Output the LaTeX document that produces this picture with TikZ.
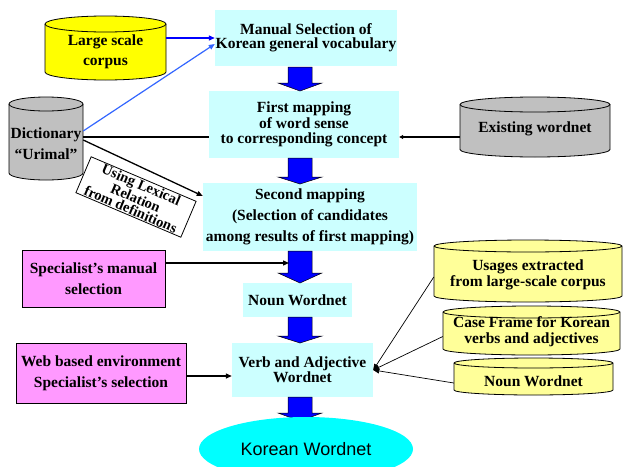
\documentclass[tikz,border=0pt]{standalone}
\usepackage{fontspec}
\setmainfont{Liberation Serif}
\newfontfamily\arialfont{Liberation Sans}
\usetikzlibrary{arrows.meta,shapes.geometric}
\definecolor{boxcyan}{HTML}{CCFFFF}
\definecolor{mypink}{HTML}{FF99FF}
\definecolor{cylyellow}{HTML}{FFFF00}
\definecolor{lightyellow}{HTML}{FFFF99}
\definecolor{cylgray}{HTML}{C0C0C0}
\definecolor{kwcyan}{HTML}{00FFFF}
\definecolor{arrowblue}{HTML}{0000FF}
\definecolor{lblue}{HTML}{3366FF}
\newcommand\mycylinder[6]{%
  \pgfmathsetmacro\cylrx{(#3-#1)/2}%
  \draw[fill=#6, line width=0.8pt] (#1,#2+#5) -- (#1,#4-#5)
    arc[start angle=180,end angle=360,x radius=\cylrx pt,y radius=#5 pt]
    -- (#3,#2+#5)
    arc[start angle=0,end angle=180,x radius=\cylrx pt,y radius=#5 pt] -- cycle;
  \draw[line width=0.8pt] (#1,#2+#5)
    arc[start angle=180,end angle=360,x radius=\cylrx pt,y radius=#5 pt];
}
\newcommand\blockarr[3]{%
  \draw[blockarrow] (288,#1) -- (312,#1) -- (312,#2) -- (322,#2) -- (300,#3)
    -- (278,#2) -- (288,#2) -- cycle;
}
\begin{document}
\begin{tikzpicture}[x=1pt,y=-1pt,
  mainfont/.style={font=\fontsize{15.5}{#1}\selectfont\bfseries},
  stepbox/.style={fill=boxcyan, inner sep=0, align=center},
  srcbox/.style={draw, fill=mypink, line width=0.8pt, inner sep=0, align=center, mainfont=21},
  cyltext/.style={inner sep=0, align=center},
  blockarrow/.style={fill=arrowblue, draw=black, line width=0.5pt},
  conn/.style={-{Triangle[length=6pt,width=5pt]}, line width=1.3pt},
  thinconn/.style={-{Triangle[length=6pt,width=5pt]}, line width=0.7pt}]
\useasboundingbox (0,0) rectangle (624,466);
\clip (0,0) rectangle (624,466);

% cylinders
\mycylinder{45}{16}{166}{80}{8}{cylyellow}
\node[cyltext, mainfont=20, minimum width=121] (corpus) at (105.5,52) {Large scale\\corpus};
\mycylinder{9}{97}{83}{180}{7}{cylgray}
\node[cyltext, mainfont=21, minimum width=74] (dict) at (46,143.5) {Dictionary\\``Urimal''};
\mycylinder{460}{97}{610}{157}{7.5}{cylgray}
\node[cyltext, mainfont=16, minimum width=150] (exist) at (535,129) {Existing wordnet};
\mycylinder{434}{240}{622}{302}{6}{lightyellow}
\node[cyltext, mainfont=16, minimum width=188] (usage) at (528,275) {Usages extracted\\from large-scale corpus};
\mycylinder{443}{306}{620}{355}{6}{lightyellow}
\node[cyltext, mainfont=15.5, minimum width=177] (caseframe) at (531.5,331.5) {Case Frame for Korean\\verbs and adjectives};
\mycylinder{454}{358}{613}{395}{5}{lightyellow}
\node[cyltext, mainfont=16, minimum width=159] (nounwn) at (533.5,381) {Noun Wordnet};

% step boxes
\node[stepbox, mainfont=14, minimum width=182, minimum height=56] (box1) at (306,38) {Manual Selection of\\Korean general vocabulary};
\node[stepbox, mainfont=15.5, minimum width=190, minimum height=67] (box2) at (304,124.5) {First mapping\\of word sense\\to corresponding concept};
\node[stepbox, mainfont=21, minimum width=214, minimum height=68] (box3) at (310,217) {Second mapping\\(Selection of candidates\\among results of first mapping)};
\node[stepbox, mainfont=16, minimum width=109, minimum height=34] (box4) at (297.5,300) {Noun Wordnet};
\node[stepbox, mainfont=15, minimum width=141, minimum height=54] (box5) at (302.5,370) {Verb and Adjective\\Wordnet};

% block arrows
\blockarr{67}{83}{91}
\blockarr{158}{177}{184}
\blockarr{251}{273}{283}
\blockarr{317}{336}{343}
\blockarr{397}{413}{421}
\coordinate (a3) at (289,263);

\node[ellipse, fill=kwcyan, minimum width=214, minimum height=64, inner sep=0,
  font=\arialfont\fontsize{18}{18}\selectfont] (kw) at (306,449) {Korean Wordnet};

% source boxes
\node[srcbox, minimum width=143, minimum height=57] (spec) at (93.5,278.5) {Specialist's manual\\selection};
\node[srcbox, minimum width=170, minimum height=60] (web) at (101,373) {Web based environment\\Specialist's selection};

% rotated label
\node[draw, fill=white, line width=0.8pt, rotate=-23, minimum width=114, minimum height=39,
  inner sep=0, align=center, font=\fontsize{14.5}{12.5}\selectfont\bfseries] (lex) at (136,197) {Using Lexical\\Relation\\from definitions};

% connectors
\draw[-{Triangle[length=6pt,width=5pt]}, line width=1.2pt, arrowblue] (corpus.east |- box1.west) -- (box1.west);
\draw[-{Triangle[length=6pt,width=5pt]}, line width=1.2pt, lblue] ([yshift=12.5pt]dict.east) -- ([yshift=-6pt]box1.west);
\coordinate (dk) at ([yshift=6.5pt]dict.east);
\draw[line width=1.3pt] (dk) -- (dk -| box2.west);
\draw[conn] ([yshift=3.5pt]dict.east) -- ([yshift=21pt]box3.west);
\coordinate (ek) at ([yshift=-8pt]exist.west);
\draw[-{Triangle[length=4pt,width=4pt]}, line width=1.3pt] (ek) -- (ek -| box2.east);
\coordinate (sk) at ([yshift=15.5pt]spec.east);
\draw[conn] (sk) -- (sk -| a3);
\coordinate (wk) at ([yshift=-3pt]web.east);
\draw[conn] (wk) -- (wk -| box5.west);
\draw[thinconn] ([yshift=-2pt]usage.west) -- (box5.east);
\draw[thinconn] ([yshift=-5pt]caseframe.west) -- (box5.east);
\draw[thinconn] ([yshift=-2pt]nounwn.west) -- (box5.east);
\end{tikzpicture}
\end{document}
